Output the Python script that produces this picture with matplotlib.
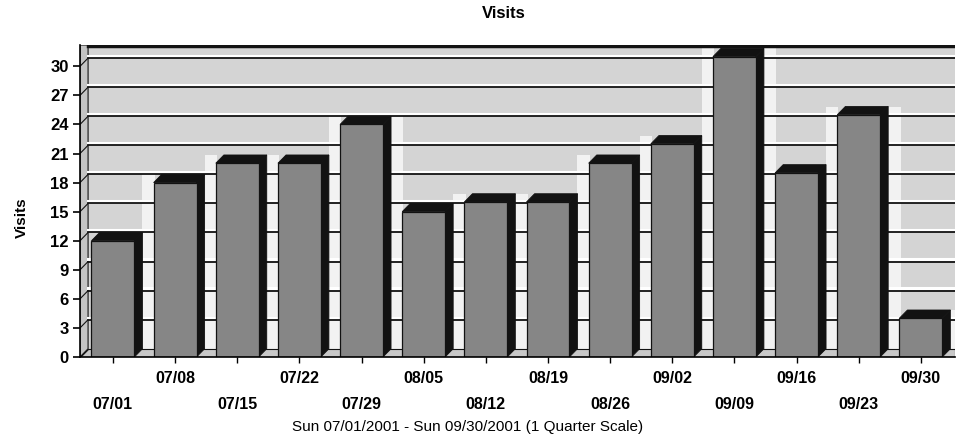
import matplotlib.pyplot as plt
from matplotlib.patches import Polygon, Rectangle

plt.rcParams['font.family'] = ['Liberation Sans', 'DejaVu Sans']

weeks = ["07/01", "07/08", "07/15", "07/22", "07/29", "08/05", "08/12",
         "08/19", "08/26", "09/02", "09/09", "09/16", "09/23", "09/30"]
visits = [12, 18, 20, 20, 24, 15, 16, 16, 20, 22, 31, 19, 25, 4]
y_ticks = list(range(0, 31, 3))

# pseudo 3-D geometry (data units)
bar_w = 0.69
dx, dy = 0.13, 0.85
x0, x1 = -0.53, 13.55
y_top = 32.2

wall_c = "#d4d4d4"
front_c = "#868686"
dark_c = "#121212"

fig = plt.figure(figsize=(9.6, 4.45), dpi=100)
ax = fig.add_axes([80 / 960, 88 / 445, 875 / 960, 312 / 445])
ax.set_xlim(x0, x1)
ax.set_ylim(0, y_top)

# back wall, side wall and floor
ax.add_patch(Rectangle((x0 + dx, dy), x1 - x0 - dx, y_top - dy,
                       facecolor=wall_c, edgecolor="none", zorder=0))
ax.add_patch(Polygon([(x0, 0), (x0 + dx, dy), (x0 + dx, y_top), (x0, y_top)],
                     facecolor="#c4c4c4", edgecolor=dark_c, lw=0.8, zorder=0))
ax.add_patch(Polygon([(x0, 0), (x1, 0), (x1, dy), (x0 + dx, dy)],
                     facecolor="#c8c8c8", edgecolor=dark_c, lw=0.8, zorder=0.5))

# lighter wall between neighbouring bars, as high as the taller one
for i, v in enumerate(visits):
    h = max(v, visits[i + 1]) if i + 1 < len(visits) else v
    right = i + bar_w / 2 + dx
    ax.add_patch(Rectangle((right, dy), 0.2, h, facecolor="#f2f2f2",
                           edgecolor="none", zorder=0.3))

# wall grid lines
for v in y_ticks[1:]:
    ax.plot([x0 + dx, x1], [v + dy + 0.22] * 2, color="white", lw=2.2, zorder=0.6)
    ax.plot([x0 + dx, x1], [v + dy] * 2, color=dark_c, lw=1.3, zorder=0.6)
    ax.plot([x0, x0 + dx], [v, v + dy], color=dark_c, lw=0.8, zorder=0.6)
ax.plot([x0 + dx, x1], [y_top - 0.15] * 2, color=dark_c, lw=2.5, zorder=0.6)

# bars: side, top, then front
for i, v in enumerate(visits):
    left = i - bar_w / 2
    right = i + bar_w / 2
    ax.add_patch(Polygon([(right, 0), (right + dx, dy), (right + dx, v + dy), (right, v)],
                         facecolor=dark_c, edgecolor=dark_c, lw=0.6, zorder=2))
    ax.add_patch(Polygon([(left, v), (left + dx, v + dy), (right + dx, v + dy), (right, v)],
                         facecolor=dark_c, edgecolor=dark_c, lw=0.6, zorder=2))
ax.bar(range(len(visits)), visits, width=bar_w, color=front_c,
       edgecolor=dark_c, linewidth=0.9, zorder=3)

# axes styling
for side in ("top", "right"):
    ax.spines[side].set_visible(False)
ax.spines["left"].set_linewidth(1.2)
ax.spines["bottom"].set_linewidth(1.2)
ax.spines["left"].set_zorder(5)
ax.spines["bottom"].set_zorder(5)

ax.set_yticks(y_ticks)
ax.set_yticklabels([str(t) for t in y_ticks], fontsize=12, fontweight="bold")
ax.tick_params(axis="y", length=5, width=1.2, pad=3)

idx = list(range(len(weeks)))
ax.set_xticks(idx[0::2])
ax.set_xticklabels(weeks[0::2], fontsize=11.5, fontweight="bold")
ax.set_xticks(idx[1::2], minor=True)
ax.set_xticklabels(weeks[1::2], minor=True, fontsize=11.5, fontweight="bold")
ax.tick_params(axis="x", which="major", length=4, width=1, pad=25)
ax.tick_params(axis="x", which="minor", length=4, width=1, pad=6)

fig.text(504 / 960, 1 - 14 / 445, "Visits", ha="center", va="center",
         fontsize=12, fontweight="bold")
fig.text(22 / 960, 1 - 218 / 445, "Visits", ha="center", va="center",
         rotation=90, fontsize=11, fontweight="bold")
fig.text(468 / 960, 1 - 427 / 445, "Sun 07/01/2001 - Sun 09/30/2001 (1 Quarter Scale)",
         ha="center", va="center", fontsize=11)

fig.savefig("out.png", dpi=100)
